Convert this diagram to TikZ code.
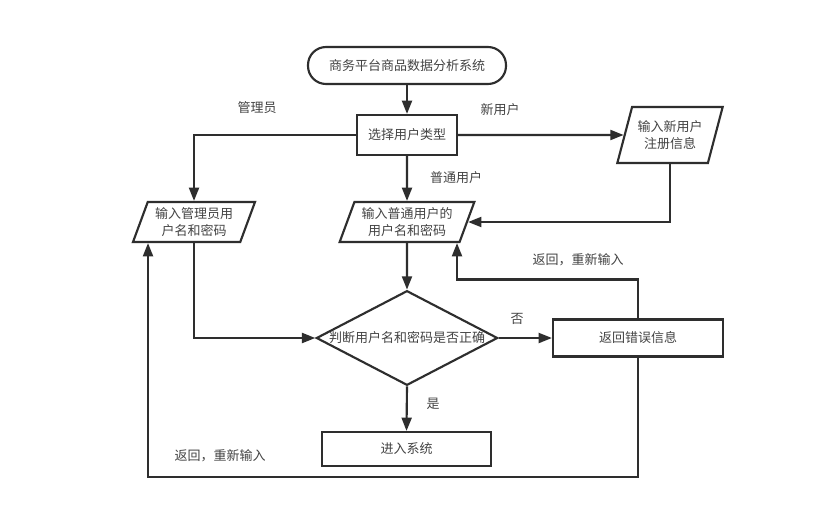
\documentclass[tikz,border=0pt]{standalone}
\usepackage{fontspec}
\setmainfont{Noto Sans CJK SC}
\usetikzlibrary{arrows.meta,shapes.geometric}
\definecolor{lineGray}{HTML}{2e2e2e}
\definecolor{textGray}{HTML}{444444}

\begin{document}
\begin{tikzpicture}[x=0.75pt,y=-0.75pt,
    font=\fontsize{9.75pt}{13pt}\selectfont,text=textGray,
    box/.style={draw=lineGray,line width=1.6pt,fill=white,inner sep=2pt,align=center},
    iobox/.style={box,trapezium,trapezium left angle=67,trapezium right angle=113,
      trapezium stretches body},
    flowarrow/.style={draw=lineGray,line width=1.6pt,-{Triangle[length=10pt,width=7.5pt]}}]
  \fill[white] (0,0) rectangle (840,507);

  % nodes
  \node[box,rounded corners=13.5pt,minimum width=148.5pt,minimum height=27.75pt]
    (start) at (407,65.5) {商务平台商品数据分析系统};
  \node[box,minimum width=75pt,minimum height=30pt] (select) at (407,135) {选择用户类型};
  \node[iobox,minimum width=91.5pt,minimum height=30pt] (admin) at (194,222)
    {输入管理员用\\户名和密码};
  \node[iobox,minimum width=101pt,minimum height=30pt] (normal) at (407,222)
    {输入普通用户的\\用户名和密码};
  \node[iobox,minimum width=79pt,minimum height=42pt] (newuser) at (670,135)
    {输入新用户\\注册信息};
  \node[box,diamond,minimum width=136pt,minimum height=71pt,inner sep=0pt,
    label=center:{判断用户名和密码是否正确}] (decision) at (407,338) {};
  \node[box,minimum width=127.5pt,minimum height=27.75pt] (error) at (638,338) {返回错误信息};
  \node[box,minimum width=126.75pt,minimum height=25.5pt] (enter) at (406.5,449) {进入系统};

  % labels
  \node (lbladmin) at (257,108) {管理员};
  \node (lblnew) at (500,110) {新用户};
  \node (lblnormal) at (456,178) {普通用户};
  \node (lblno) at (517,319) {否};
  \node (lblyes) at (433,404) {是};
  \node (lblretry) at (578,260) {返回，重新输入};
  \node (lblretry2) at (220,456) {返回，重新输入};

  % connectors
  \draw[flowarrow] (start) -- (select);
  \draw[flowarrow] (select) -- (normal);
  \draw[flowarrow] (select.west) -| (admin.north);
  \draw[flowarrow] (select.east) -- (newuser.west);
  \draw[flowarrow] (newuser.south) |- (normal.east);
  \draw[flowarrow] (normal) -- (decision);
  \draw[flowarrow] (admin.south) |- (decision.west);
  \draw[flowarrow] (decision.east) -- (error.west);
  \draw[flowarrow] (decision.south) -- (enter.north);
  \draw[flowarrow] (error.north) -- ++(0,-39) -| ([xshift=37.5pt]normal.south);
  \draw[flowarrow] (error.south) -- ++(0,119) -| ([xshift=-34.5pt]admin.south);
\end{tikzpicture}
\end{document}
